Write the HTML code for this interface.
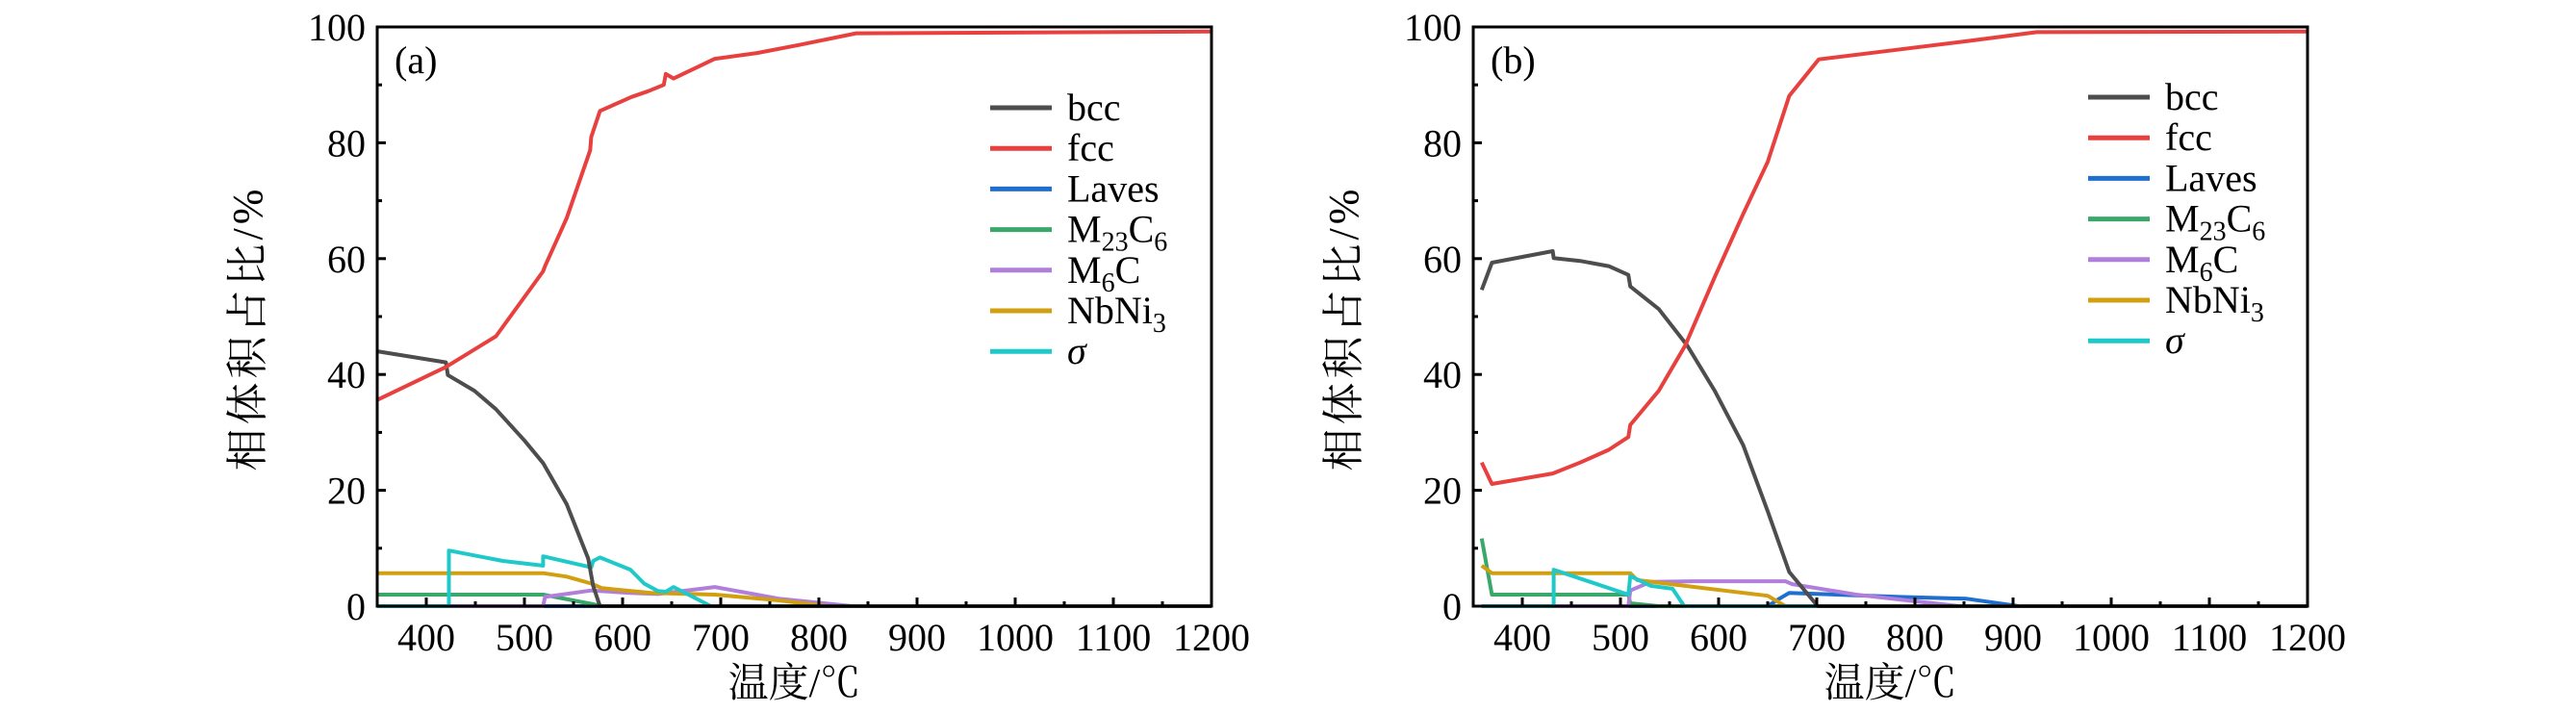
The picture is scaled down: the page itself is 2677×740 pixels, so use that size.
<!DOCTYPE html>
<html><head><meta charset="utf-8">
<style>
html,body{margin:0;padding:0;background:#fff;}
svg{display:block;}
text{font-family:"Liberation Serif","Noto Serif CJK SC",serif;fill:#000;}
</style></head>
<body>
<svg id="chart" width="2677" height="740" viewBox="0 0 2677 740" xmlns="http://www.w3.org/2000/svg"></svg>
<script>
const seriesNames = ["bcc","fcc","Laves","M23C6","M6C","NbNi3","sigma"];
const seriesColors = ["#4d4d4d","#e8403f","#1f6fd0","#3aa86a","#b07fdb","#d29f10","#1fc9c9"];
const xTicks = [400,500,600,700,800,900,1000,1100,1200];
const yTicks = [0,20,40,60,80,100];

// Panel (a) data: [temperature, volume %]
const aBccT = [350,420,422,449,471,500,519,543,565,570,577,1200];
const aBccV = [44,42.1,39.9,37.2,34,28.6,24.7,17.6,8.2,3.5,0,0];
const aFccT = [350,420,471,519,521,543,567,568,577,609,626,642,644,652,694,737,780,838,1200];
const aFccV = [35.6,41.3,46.6,57.8,58.7,67,78.7,81,85.5,87.9,88.9,90,91.9,91.1,94.5,95.5,96.9,98.9,99.2];
const aLavesT = [350,1200];
const aLavesV = [0,0];
const aM23T = [350,519,568,579,1200];
const aM23V = [2,2,0.4,0,0];
const aM6CT = [350,519,521,568,608,636,694,759,834,1200];
const aM6CV = [0,0,1.6,2.7,2.3,2.1,3.3,1.3,0,0];
const aNbT = [350,519,543,568,579,629,694,759,809,1200];
const aNbV = [5.7,5.7,5.1,3.9,3.1,2.3,2.0,1.0,0,0];
const aSigT = [350,423,423,478,519,519,568,570,577,608,622,636,644,652,690,1200];
const aSigV = [0,0,9.6,7.8,7,8.6,6.7,7.8,8.4,6.3,3.9,2.6,2.5,3.3,0,0];

// Panel (b)
const bBccT = [358.6,369,431,432,459,488,508,510,539,568,596,625,650,672,701,1200];
const bBccV = [54.6,59.3,61.3,60.1,59.6,58.7,57.2,55.2,51.3,45,37.2,27.8,16.4,5.9,0,0];
const bFccT = [358.6,369,431,459,488,508,510,539,566,596,625,650,672,702,769,856,924,1200];
const bFccV = [24.8,21.1,22.9,24.8,27,29.2,31.3,37.2,45,56.8,67.7,76.7,88.1,94.4,95.8,97.6,99.1,99.2];
const bLavesT = [358.6,650,661,672,784,852,906,1200];
const bLavesV = [0,0,1.2,2.3,1.6,1.3,0,0];
const bM23T = [358.6,369,508,510,539,1200];
const bM23V = [11.7,2,2,0.5,0,0];
const bM6CT = [358.6,508,510,531,575,668,675,740,845,1200];
const bM6CV = [0,0,2.7,4.2,4.3,4.3,3.8,2.0,0,0];
const bNbT = [358.6,369,510,517,650,668,1200];
const bNbV = [7,5.7,5.7,4.5,1.8,0,0];
const bSigT = [358.6,432,432,508,510,531,553,565,1200];
const bSigV = [0,0,6.3,2.0,5.2,3.5,3.0,0,0];

const aT=[aBccT,aFccT,aLavesT,aM23T,aM6CT,aNbT,aSigT];
const aV=[aBccV,aFccV,aLavesV,aM23V,aM6CV,aNbV,aSigV];
const bT=[bBccT,bFccT,bLavesT,bM23T,bM6CT,bNbT,bSigT];
const bV=[bBccV,bFccV,bLavesV,bM23V,bM6CV,bNbV,bSigV];

const NS="http://www.w3.org/2000/svg";
const svg=document.getElementById('chart');
function mk(tag,attrs,parent){const e=document.createElementNS(NS,tag);for(const k in attrs)e.setAttribute(k,attrs[k]);(parent||svg).appendChild(e);return e;}

function panel(id,left,label,Ts,Vs,leg){
  const right=left+867, top=28, bot=630;
  const xs=t=>left+(t-350)/850*(right-left);
  const ys=v=>bot-v/100*(bot-top);
  const g=mk('g',{});
  
  
  const order=[2,3,4,5,6,0,1];
  order.forEach(s=>{
    const pts=Ts[s].map((t,i)=>xs(t).toFixed(1)+','+ys(Vs[s][i]).toFixed(1)).join(' ');
    const p=mk('polyline',{points:pts,fill:'none',stroke:seriesColors[s],'stroke-width':4,'stroke-linejoin':'round'},g);
    
    
  });
  const fr=mk('rect',{x:left,y:top,width:right-left,height:bot-top,fill:'none',stroke:'#000','stroke-width':3},g);
  
  
  xTicks.forEach(t=>{
    mk('line',{x1:xs(t),x2:xs(t),y1:bot,y2:bot-9,stroke:'#000','stroke-width':3},g);
    if(t<1200) mk('line',{x1:xs(t+50),x2:xs(t+50),y1:bot,y2:bot-5,stroke:'#000','stroke-width':3},g);
    const tx=mk('text',{x:xs(t),y:bot+46,'font-size':40,'text-anchor':'middle'},g);
    tx.textContent=t;
    
    
  });
  yTicks.forEach(v=>{
    mk('line',{x1:left,x2:left+9,y1:ys(v),y2:ys(v),stroke:'#000','stroke-width':3},g);
    if(v<100) mk('line',{x1:left,x2:left+5,y1:ys(v+10),y2:ys(v+10),stroke:'#000','stroke-width':3},g);
    const tx=mk('text',{x:left-12,y:ys(v)+14,'font-size':40,'text-anchor':'end'},g);
    tx.textContent=v;
    
    
  });
  const xt=mk('text',{x:(left+right)/2,y:724,'font-size':42,'text-anchor':'middle'},g);
  xt.textContent='温度/℃';
  
  
  const yt=mk('text',{x:0,y:0,'font-size':44,'text-anchor':'middle','letter-spacing':4,transform:`translate(${left-120},341) rotate(-90)`},g);
  yt.textContent='相体积占比/%';
  
  
  const pl=mk('text',{x:left+18,y:76,'font-size':40},g);
  pl.textContent=label;
  
  
  const labels=['bcc','fcc','Laves','M<tspan font-size="28" dy="9">23</tspan><tspan dy="-9">C</tspan><tspan font-size="28" dy="9">6</tspan>','M<tspan font-size="28" dy="9">6</tspan><tspan dy="-9">C</tspan>','NbNi<tspan font-size="28" dy="9">3</tspan>','<tspan font-style="italic">σ</tspan>'];
  labels.forEach((lb,i)=>{
    const y=leg.y+i*42.2;
    const le=mk('g',{},g);
    
    
    mk('line',{x1:leg.x,x2:leg.x+64,y1:y,y2:y,stroke:seriesColors[i],'stroke-width':5},le);
    const t=mk('text',{x:leg.x+80,y:y+13,'font-size':40},le);
    t.innerHTML=lb;
  });
}
panel('a',392,'(a)',aT,aV,{x:1029,y:112});
panel('b',1531,'(b)',bT,bV,{x:2170,y:101});
</script>
</body></html>
